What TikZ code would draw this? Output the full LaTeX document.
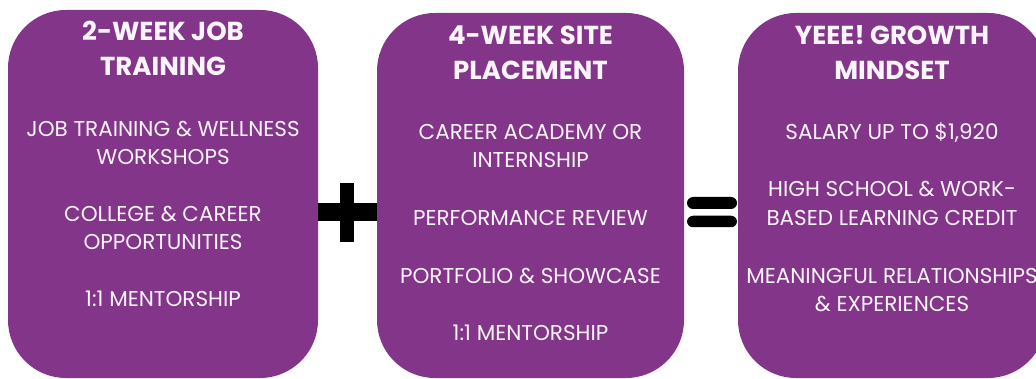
\documentclass[tikz,border=0pt]{standalone}
\usepackage{fontspec}
\setmainfont{Poppins}
\definecolor{boxpurple}{RGB}{131,53,137}
\definecolor{txtwhite}{RGB}{250,245,250}
\begin{document}
\begin{tikzpicture}[x=1pt,y=-1pt,
  panel/.style={rectangle,fill=boxpurple,draw=none,rounded corners=58pt,inner sep=0pt},
  ttl/.style={anchor=base,text=txtwhite,inner sep=0pt,font=\fontsize{26}{30}\selectfont\bfseries},
  itm/.style={anchor=base,text=txtwhite,inner sep=0pt,font=\fontsize{21.5}{25}\selectfont},
  opbar/.style={rectangle,fill=black,draw=none,inner sep=0pt}]
\useasboundingbox (0,0) rectangle (1036,379);
\begin{scope}
\clip (0,0) rectangle (1036,379);
% panels
\node[panel,minimum width=310pt,minimum height=368pt] (b1) at (163,194) {};
\node[panel,minimum width=307pt,minimum height=365pt] (b2) at (530.5,195.5) {};
\node[panel,minimum width=308pt,minimum height=365pt] (b3) at (892,195.5) {};
% operators
\node[opbar,minimum width=14pt,minimum height=59pt] (plusv) at (347,212.5) {};
\node[opbar,minimum width=59pt,minimum height=18pt] (plush) at (347.5,212) {};
\node[opbar,rounded corners=6pt,minimum width=50pt,minimum height=12pt] (eqa) at (712,203) {};
\node[opbar,rounded corners=6pt,minimum width=50pt,minimum height=11.5pt] (eqb) at (712,221.5) {};
% box 1
\node[ttl] (t1a) at (163,40.5) {2-WEEK JOB};
\node[ttl] (t1b) at (163,75.5) {TRAINING};
\node[itm] (i1a) at (163,137) {JOB TRAINING \& WELLNESS};
\node[itm] (i1b) at (163,165) {WORKSHOPS};
\node[itm] (i1c) at (163,222) {COLLEGE \& CAREER};
\node[itm] (i1d) at (163,250) {OPPORTUNITIES};
\node[itm] (i1e) at (163,307) {1:1 MENTORSHIP};
% box 2
\node[ttl] (t2a) at (530.5,44.5) {4-WEEK SITE};
\node[ttl] (t2b) at (530.5,80) {PLACEMENT};
\node[itm] (i2a) at (530.5,139.5) {CAREER ACADEMY OR};
\node[itm] (i2b) at (530.5,167.5) {INTERNSHIP};
\node[itm] (i2c) at (530.5,226) {PERFORMANCE REVIEW};
\node[itm] (i2d) at (530.5,283.5) {PORTFOLIO \& SHOWCASE};
\node[itm] (i2e) at (530.5,341) {1:1 MENTORSHIP};
% box 3
\node[ttl] (t3a) at (892,44.5) {YEEE! GROWTH};
\node[ttl] (t3b) at (892,80) {MINDSET};
\node[itm] (i3a) at (892,140) {SALARY UP TO \$1,920};
\node[itm] (i3b) at (892,196.5) {HIGH SCHOOL \& WORK-};
\node[itm] (i3c) at (892,226) {BASED LEARNING CREDIT};
\node[itm] (i3d) at (892,283.5) {MEANINGFUL RELATIONSHIPS};
\node[itm] (i3e) at (892,311.5) {\& EXPERIENCES};
\end{scope}
\end{tikzpicture}
\end{document}
